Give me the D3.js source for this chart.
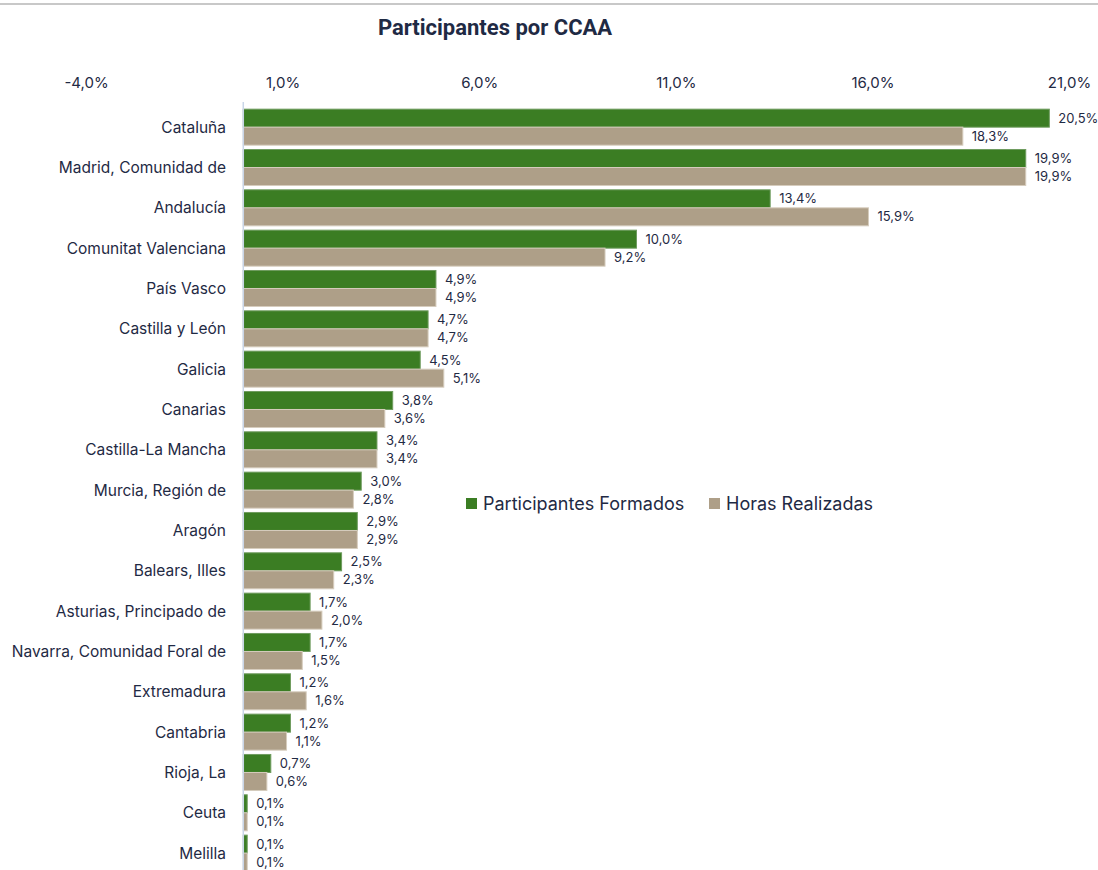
<!DOCTYPE html>
<html>
<head>
<meta charset="utf-8">
<script src="https://cdn.jsdelivr.net/npm/d3@7"></script>
<style>
  body { margin: 0; background: #fff; }
  text { font-family: Inter, "Noto Sans", sans-serif; fill: #1f2a44; }
</style>
</head>
<body>
<script>
// chart size
var w = 1098, h = 870;

// categories (top to bottom)
var regions = [
  "Cataluña", "Madrid, Comunidad de", "Andalucía", "Comunitat Valenciana",
  "País Vasco", "Castilla y León", "Galicia", "Canarias", "Castilla-La Mancha",
  "Murcia, Región de", "Aragón", "Balears, Illes", "Asturias, Principado de",
  "Navarra, Comunidad Foral de", "Extremadura", "Cantabria", "Rioja, La",
  "Ceuta", "Melilla"
];
// series values (%)
var participantes = [20.5, 19.9, 13.4, 10.0, 4.9, 4.7, 4.5, 3.8, 3.4, 3.0, 2.9, 2.5, 1.7, 1.7, 1.2, 1.2, 0.7, 0.1, 0.1];
var horas = [18.3, 19.9, 15.9, 9.2, 4.9, 4.7, 5.1, 3.6, 3.4, 2.8, 2.9, 2.3, 2.0, 1.5, 1.6, 1.1, 0.6, 0.1, 0.1];
var seriesNames = ["Participantes Formados", "Horas Realizadas"];
var colors = ["#3b7d23", "#ae9f88"];
var strokes = ["#6f9c5f", "#d6ccbd"];
// tick labels
var ticks = [-4, 1, 6, 11, 16, 21];

window.onload = function(){
  var svg = d3.select("body").append("svg")
    .attr("width", w)
    .attr("height", h);

  // top border line
  svg.append("line")
    .attr("x1", 0).attr("x2", w)
    .attr("y1", 4).attr("y2", 4)
    .style("stroke", "#c8c8c8")
    .style("stroke-width", 2);

  // title
  svg.append("text")
    .attr("x", 495)
    .attr("y", 35)
    .attr("text-anchor", "middle")
    .style("font-family", "Roboto, sans-serif")
    .style("font-size", "22px")
    .style("font-weight", "bold")
    .text("Participantes por CCAA");

  var pct = d3.formatLocale({decimal: ",", thousands: ".", grouping: [3], currency: ["", "€"], minus: "-"})
    .format(".1f");

  var x = d3.scaleLinear().domain([-4, 21]).range([86, 1069]);
  var y = d3.scaleBand().domain(regions).range([107, 873.3]);
  var sub = d3.scaleBand().domain([0, 1]).range([0, y.bandwidth()]).paddingOuter(0.12);

  // top axis labels
  var axis = svg.append("g")
    .attr("transform", "translate(0,88)")
    .call(d3.axisTop(x).tickValues(ticks).tickSize(0).tickPadding(0)
      .tickFormat(function(d){ return pct(d) + "%"; }));
  axis.select(".domain").remove();
  axis.selectAll("text")
    .style("font-size", "15px")
    .style("fill", "#1f2a44")
    .style("font-family", "Inter, sans-serif");

  // bars
  var data = regions.map(function(r, i){ return {region: r, vals: [participantes[i], horas[i]]}; });
  var groups = svg.selectAll(".grp")
    .data(data)
    .enter()
    .append("g")
    .attr("class", "grp")
    .attr("transform", function(d){ return "translate(0," + y(d.region) + ")"; });

  groups.selectAll("rect")
    .data(function(d){ return d.vals.map(function(v, k){ return {v: v, k: k}; }); })
    .enter()
    .append("rect")
    .attr("x", x(0))
    .attr("y", function(d){ return sub(d.k); })
    .attr("width", function(d){ return x(d.v) - x(0); })
    .attr("height", sub.bandwidth())
    .style("fill", function(d){ return colors[d.k]; })
    .style("stroke", function(d){ return strokes[d.k]; })
    .style("stroke-width", 1);

  groups.selectAll(".val")
    .data(function(d){ return d.vals.map(function(v, k){ return {v: v, k: k}; }); })
    .enter()
    .append("text")
    .attr("class", "val")
    .attr("x", function(d){ return x(d.v) + 9; })
    .attr("y", function(d){ return sub(d.k) + sub.bandwidth() / 2; })
    .attr("dy", "0.35em")
    .style("font-size", "13px")
    .text(function(d){ return pct(d.v) + "%"; });

  // category labels
  groups.append("text")
    .attr("x", 226)
    .attr("y", y.bandwidth() / 2)
    .attr("dy", "0.35em")
    .attr("text-anchor", "end")
    .style("font-size", "15.5px")
    .text(function(d){ return d.region; });

  // vertical axis line at 0
  svg.append("line")
    .attr("x1", x(0)).attr("x2", x(0))
    .attr("y1", 102).attr("y2", h)
    .style("stroke", "#c9d6e8")
    .style("stroke-width", 1.5);

  // legend
  var legX = [466, 709];
  var legend = svg.selectAll(".leg")
    .data(seriesNames)
    .enter()
    .append("g")
    .attr("class", "leg")
    .attr("transform", function(d, i){ return "translate(" + legX[i] + ",498)"; });
  legend.append("rect")
    .attr("width", 11).attr("height", 11)
    .style("fill", function(d, i){ return colors[i]; });
  legend.append("text")
    .attr("x", 17)
    .attr("y", 5.5)
    .attr("dy", "0.35em")
    .style("font-size", "18px")
    .text(function(d){ return d; });
};
</script>
</body>
</html>
